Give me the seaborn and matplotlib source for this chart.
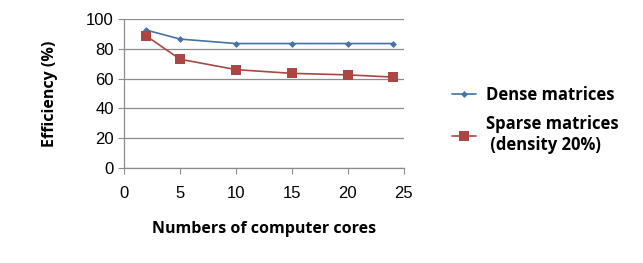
import matplotlib
matplotlib.use("Agg")
import matplotlib.pyplot as plt
import pandas as pd
import seaborn as sns

# ── Dados ────────────────────────────────────────────────
cores = [2, 5, 10, 15, 20, 24]
dense = [92.5, 86.5, 83.5, 83.5, 83.5, 83.5]
sparse = [88.5, 73.0, 66.0, 63.5, 62.5, 61.0]
series_names = ["Dense matrices", "Sparse matrices\n (density 20%)"]
x_ticks = [0, 5, 10, 15, 20, 25]
y_ticks = [0, 20, 40, 60, 80, 100]

df = pd.DataFrame(
    {
        "cores": cores * 2,
        "eff": dense + sparse,
        "serie": [series_names[0]] * len(cores) + [series_names[1]] * len(cores),
    }
)

sns.set_style("white")
plt.rcParams["font.family"] = ["Liberation Sans", "DejaVu Sans"]
plt.rcParams["text.color"] = "black"
plt.rcParams["axes.labelcolor"] = "black"
plt.rcParams["xtick.color"] = "black"
plt.rcParams["ytick.color"] = "black"

fig = plt.figure(figsize=(6.43, 2.63), dpi=100)
ax = fig.add_axes([0.193, 0.361, 0.435, 0.567])

palette = {series_names[0]: "#4572A7", series_names[1]: "#AA4643"}
sns.lineplot(
    data=df,
    x="cores",
    y="eff",
    hue="serie",
    style="serie",
    markers={series_names[0]: "D", series_names[1]: "s"},
    dashes=False,
    palette=palette,
    ax=ax,
    linewidth=1.2,
    markeredgewidth=0,
)
for line, ms in zip(ax.lines, [3.5, 6.5]):
    line.set_markersize(ms)

ax.set_xlim(0, 25)
ax.set_ylim(0, 100)
ax.set_xticks(x_ticks)
ax.set_yticks(y_ticks)
ax.tick_params(axis="both", labelsize=12, length=4, color="#8C8C8C", direction="out")
ax.tick_params(axis="x", pad=9)
ax.yaxis.grid(True, color="#8C8C8C", linewidth=0.9)
ax.xaxis.grid(False)
for side in ["top", "right"]:
    ax.spines[side].set_visible(False)
for side in ["left", "bottom"]:
    ax.spines[side].set_color("#8C8C8C")
    ax.spines[side].set_linewidth(0.9)
ax.tick_params(left=True, bottom=True)

ax.set_xlabel("Numbers of computer cores", fontsize=11.5, fontweight="bold",
              family=["Open Sans", "DejaVu Sans"], labelpad=14)
ax.set_ylabel("Efficiency (%)", fontsize=11.5, fontweight="bold",
              family=["Open Sans", "DejaVu Sans"], labelpad=20)

handles, labels = ax.get_legend_handles_labels()
for h, ms in zip(handles, [3.5, 6.5]):
    h.set_markersize(ms)
ax.legend(
    handles,
    labels,
    loc="upper left",
    bbox_to_anchor=(1.12, 0.65),
    frameon=False,
    prop={"family": ["Open Sans", "DejaVu Sans"], "weight": "bold", "size": 12},
    handlelength=1.4,
    handletextpad=0.6,
    labelspacing=0.65,
)

plt.savefig("out.png", dpi=100)
